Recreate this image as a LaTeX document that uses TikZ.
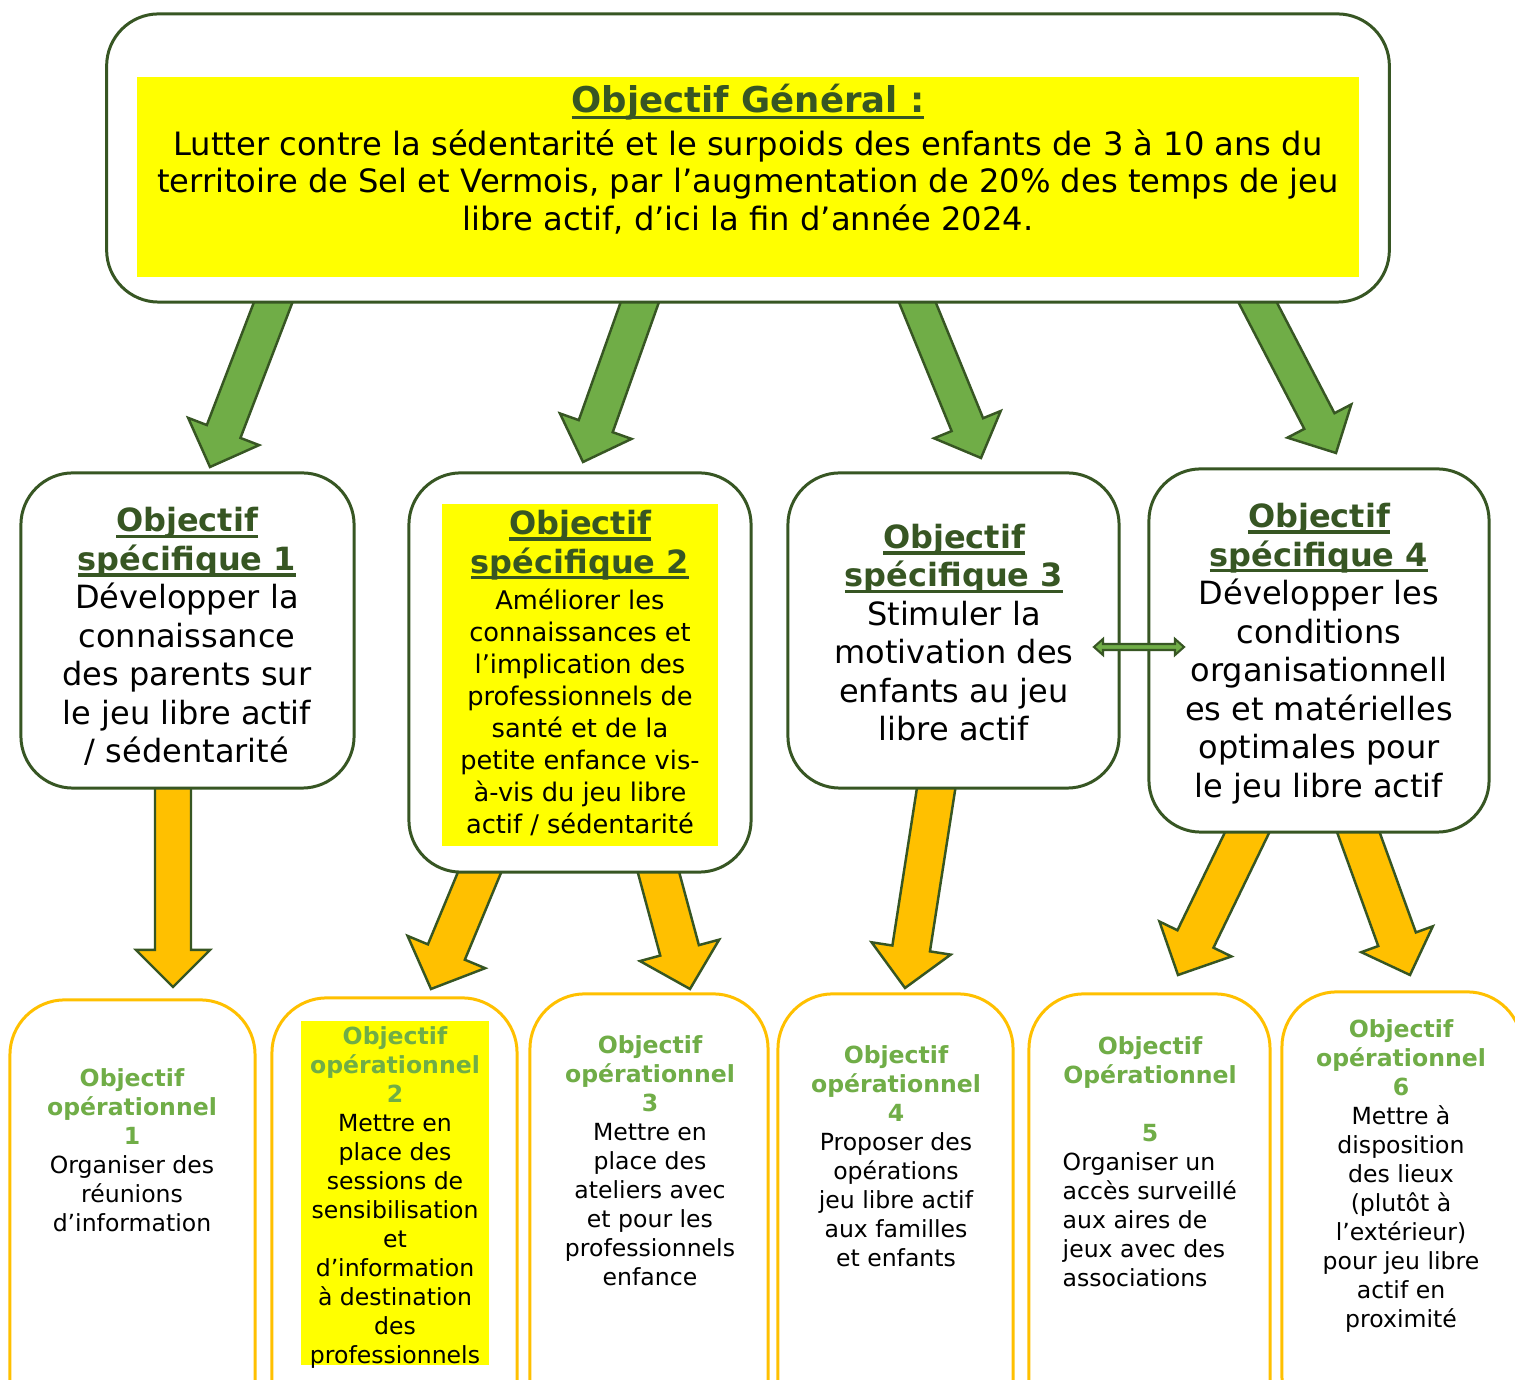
\documentclass[tikz,border=0pt]{standalone}
\usepackage{fontspec}
\setmainfont{DejaVu Sans}
\usetikzlibrary{calc,backgrounds}

\definecolor{darkgreen}{HTML}{375623}
\definecolor{arrowgreen}{HTML}{70AD47}
\definecolor{gold}{HTML}{FFC000}
\definecolor{markyellow}{HTML}{FFFF00}

\newsavebox{\titelbox}
\newcommand{\titel}[1]{\textbf{\textcolor{darkgreen}{\sbox{\titelbox}{#1}\rlap{\rule[-0.2em]{\wd\titelbox}{1pt}}\usebox{\titelbox}}}}
\newcommand{\optitel}[1]{\textbf{\textcolor{arrowgreen}{#1}}}
% style, start, tip, shaft half width, head half width, head length
\newcommand{\blockarrow}[6]{%
	\coordinate (babase) at ($(#3)!#6!(#2)$);
	\draw[#1] ($(#2)!#4!90:(#3)$) -- ($(babase)!#4!90:(#3)$) -- ($(babase)!#5!90:(#3)$) -- (#3) -- ($(babase)!#5!-90:(#3)$) -- ($(babase)!#4!-90:(#3)$) -- ($(#2)!#4!-90:(#3)$) -- cycle;
}

\begin{document}
\begin{tikzpicture}[x=0.01cm, y=-0.01cm,
	gbox/.style={draw=darkgreen, line width=0.85pt, fill=white, rounded corners=0.52cm, inner sep=0, outer sep=0},
	obox/.style={draw=gold, line width=0.85pt, fill=white, rounded corners=0.55cm, inner sep=0, outer sep=0},
	marker/.style={fill=markyellow, inner sep=0, outer sep=0},
	stext/.style={align=center, inner sep=0, font=\fontsize{9.1}{10.95}\selectfont},
	otext/.style={align=center, inner sep=0, font=\fontsize{6.7}{8.25}\selectfont},
	greenarrow/.style={fill=arrowgreen, draw=darkgreen, line width=0.7pt},
	goldarrow/.style={fill=gold, draw=darkgreen, line width=0.7pt}]
	\useasboundingbox (0,0) rectangle (1515,1380);
	\clip (0,0) rectangle (1515,1380);

	\node[gbox, minimum width=12.82cm, minimum height=2.88cm] (Objectif General) at (748,158) {};
	\node[marker, minimum width=12.22cm, minimum height=2cm] (General Marker) at (748,177) {};
	\node[inner sep=0, font=\fontsize{10.1}{11}\selectfont] (General Titel) at (748,102) {\titel{Objectif Général :}};
	\node[align=center, inner sep=0, font=\fontsize{9.15}{10.8}\selectfont] (General Text) at (748,182) {Lutter contre la sédentarité et le surpoids des enfants de 3 à 10 ans du\\territoire de Sel et Vermois, par l’augmentation de 20\% des temps de jeu\\libre actif, d’ici la fin d’année 2024.};

	\node[gbox, minimum width=3.33cm, minimum height=3.15cm] (Specifique 1) at (187.5,630.5) {};
	\node[stext] (Specifique 1 Text) at (187,636.5) {\titel{Objectif}\\\titel{spécifique 1}\\Développer la\\connaissance\\des parents sur\\le jeu libre actif\\/ sédentarité};
	\node[gbox, minimum width=3.42cm, minimum height=3.99cm] (Specifique 2) at (580,672.5) {};
	\node[marker, minimum width=2.76cm, minimum height=3.42cm] (Specifique 2 Marker) at (580,675) {};
	\node[stext] (Specifique 2 Titel) at (580,545) {\titel{Objectif}\\\titel{spécifique 2}};
	\node[align=center, inner sep=0, font=\fontsize{7.3}{9.1}\selectfont] (Specifique 2 Text) at (580,712.5) {Améliorer les\\connaissances et\\l’implication des\\professionnels de\\santé et de la\\petite enfance vis-\\à-vis du jeu libre\\actif / sédentarité};
	\node[gbox, minimum width=3.31cm, minimum height=3.15cm] (Specifique 3) at (953.5,630.5) {};
	\node[stext] (Specifique 3 Text) at (954,632.5) {\titel{Objectif}\\\titel{spécifique 3}\\Stimuler la\\motivation des\\enfants au jeu\\libre actif};
	\node[gbox, minimum width=3.40cm, minimum height=3.63cm] (Specifique 4) at (1319,650.5) {};
	\node[stext] (Specifique 4 Text) at (1319,653.5) {\titel{Objectif}\\\titel{spécifique 4}\\Développer les\\conditions\\organisationnell\\es et matérielles\\optimales pour\\le jeu libre actif};

	\node[obox, minimum width=2.45cm, minimum height=4.4cm] (Operationnel 1) at (132.5,1220) {};
	\node[otext] (Operationnel 1 Text) at (132,1150.5) {\optitel{Objectif}\\\optitel{opérationnel}\\\optitel{1}\\Organiser des\\réunions\\d’information};
	\node[obox, minimum width=2.45cm, minimum height=4.4cm] (Operationnel 2) at (394.5,1218) {};
	\node[marker, minimum width=1.88cm, minimum height=3.44cm] (Operationnel 2 Marker) at (395,1193) {};
	\node[otext] (Operationnel 2 Text) at (395,1197.5) {\optitel{Objectif}\\\optitel{opérationnel}\\\optitel{2}\\Mettre en\\place des\\sessions de\\sensibilisation\\et\\d’information\\à destination\\des\\professionnels};
	\node[obox, minimum width=2.38cm, minimum height=4.4cm] (Operationnel 3) at (649,1214) {};
	\node[otext] (Operationnel 3 Text) at (650,1161) {\optitel{Objectif}\\\optitel{opérationnel}\\\optitel{3}\\Mettre en\\place des\\ateliers avec\\et pour les\\professionnels\\enfance};
	\node[obox, minimum width=2.35cm, minimum height=4.4cm] (Operationnel 4) at (895.5,1214) {};
	\node[otext] (Operationnel 4 Text) at (896,1156) {\optitel{Objectif}\\\optitel{opérationnel}\\\optitel{4}\\Proposer des\\opérations\\jeu libre actif\\aux familles\\et enfants};
	\node[obox, minimum width=2.41cm, minimum height=4.4cm] (Operationnel 5) at (1149.5,1214) {};
	\node[otext] (Operationnel 5 Titel) at (1150,1089.5) {\optitel{Objectif}\\\optitel{Opérationnel}\\[8.25pt]\optitel{5}};
	\node[otext, align=left, anchor=west] (Operationnel 5 Text) at (1062,1220) {Organiser un\\accès surveillé\\aux aires de\\jeux avec des\\associations};
	\node[obox, minimum width=2.40cm, minimum height=4.4cm] (Operationnel 6) at (1402,1212) {};
	\node[otext] (Operationnel 6 Text) at (1401,1176) {\optitel{Objectif}\\\optitel{opérationnel}\\\optitel{6}\\Mettre à\\disposition\\des lieux\\(plutôt à\\l’extérieur)\\pour jeu libre\\actif en\\proximité};

	\coordinate (G1 a) at (281,282);  \coordinate (G1 b) at (210,467);
	\coordinate (G2 a) at (647,282);  \coordinate (G2 b) at (583,462);
	\coordinate (G3 a) at (909,282);  \coordinate (G3 b) at (981,458);
	\coordinate (G4 a) at (1247,282); \coordinate (G4 b) at (1336,453);
	\coordinate (O1 a) at (173,770);  \coordinate (O1 b) at (173,987);
	\coordinate (O2 a) at (488,852);  \coordinate (O2 b) at (431,989);
	\coordinate (O3 a) at (653,852);  \coordinate (O3 b) at (690,989);
	\coordinate (O4 a) at (939,770);  \coordinate (O4 b) at (905,988);
	\coordinate (O5 a) at (1257,812); \coordinate (O5 b) at (1178,975);
	\coordinate (O6 a) at (1351,812); \coordinate (O6 b) at (1410,975);
	\begin{scope}[on background layer]
		\blockarrow{greenarrow}{G1 a}{G1 b}{0.18cm}{0.38cm}{0.38cm}
		\blockarrow{greenarrow}{G2 a}{G2 b}{0.18cm}{0.38cm}{0.38cm}
		\blockarrow{greenarrow}{G3 a}{G3 b}{0.17cm}{0.36cm}{0.36cm}
		\blockarrow{greenarrow}{G4 a}{G4 b}{0.17cm}{0.36cm}{0.36cm}
		\blockarrow{goldarrow}{O1 a}{O1 b}{0.18cm}{0.37cm}{0.37cm}
		\blockarrow{goldarrow}{O2 a}{O2 b}{0.20cm}{0.42cm}{0.40cm}
		\blockarrow{goldarrow}{O3 a}{O3 b}{0.20cm}{0.41cm}{0.40cm}
		\blockarrow{goldarrow}{O4 a}{O4 b}{0.19cm}{0.40cm}{0.40cm}
		\blockarrow{goldarrow}{O5 a}{O5 b}{0.20cm}{0.40cm}{0.40cm}
		\blockarrow{goldarrow}{O6 a}{O6 b}{0.20cm}{0.38cm}{0.38cm}
	\end{scope}

	\coordinate (Pfeil links) at (1094,647);
	\coordinate (Pfeil rechts) at (1184,647);
	\draw[greenarrow, line width=0.6pt] (Pfeil links) -- ++(9,-8) -- ++(0,5) -- ++(72,0) -- ++(0,-5) -- (Pfeil rechts) -- ++(-9,8) -- ++(0,-5) -- ++(-72,0) -- ++(0,5) -- cycle;
\end{tikzpicture}
\end{document}
